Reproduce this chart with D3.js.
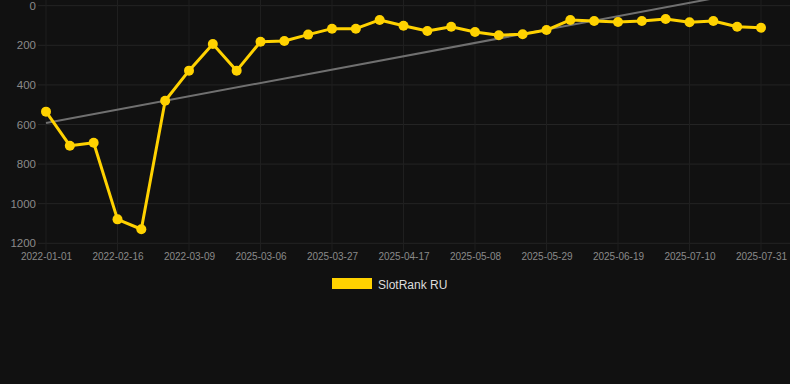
<!DOCTYPE html>
<html>
<head>
<meta charset="utf-8">
<script src="https://cdn.jsdelivr.net/npm/d3@7"></script>
<style>
  html, body { margin: 0; padding: 0; background: #111111; }
  svg { display: block; font-family: "Liberation Sans", Arial, Helvetica, sans-serif; }
</style>
</head>
<body>
<div id="chart"></div>
<script>
// ============================================================
//  Data
// ============================================================

const dates = [
  '2022-01-01', '2022-01-16', '2022-02-01', '2022-02-16', '2022-02-23', '2022-03-02',
  '2022-03-09', '2025-02-20', '2025-02-27', '2025-03-06', '2025-03-13', '2025-03-20',
  '2025-03-27', '2025-04-03', '2025-04-10', '2025-04-17', '2025-04-24', '2025-05-01',
  '2025-05-08', '2025-05-15', '2025-05-22', '2025-05-29', '2025-06-05', '2025-06-12',
  '2025-06-19', '2025-06-26', '2025-07-03', '2025-07-10', '2025-07-17', '2025-07-24',
  '2025-07-31'
];

// Rank values (lower is better, axis reversed)
const rankRU = [
  535, 707, 692, 1079, 1129, 480, 328, 193, 328, 182, 178, 146, 116, 116, 72, 101,
  128, 106, 133, 149, 144, 123, 72, 77, 82, 77, 67, 84, 77, 106, 111
];

const yTicks = [0, 200, 400, 600, 800, 1000, 1200];
const seriesName = 'SlotRank RU';

// ============================================================
//  Layout
// ============================================================

const W = 790, H = 384;
const plot = { left: 38, right: 790, top: 5.7, bottom: 243.3 };
const yellow = '#ffd200';

const svg = d3.select('#chart').append('svg')
  .attr('width', W).attr('height', H);

svg.append('rect').attr('width', W).attr('height', H).attr('fill', '#111111');

const x = d3.scalePoint().domain(dates).range([46, 761]);
const y = d3.scaleLinear().domain([0, 1200]).range([plot.top, plot.bottom]);

// x labels only on every third category
const xTicks = dates.filter((d, i) => i % 3 === 0);

// ============================================================
//  Grid
// ============================================================

svg.append('g')
  .selectAll('line')
  .data(yTicks)
  .join('line')
  .attr('x1', plot.left).attr('x2', plot.right)
  .attr('y1', d => y(d)).attr('y2', d => y(d))
  .attr('stroke', '#242424').attr('stroke-width', 1);

svg.append('g')
  .selectAll('line')
  .data(xTicks)
  .join('line')
  .attr('x1', d => x(d)).attr('x2', d => x(d))
  .attr('y1', 0).attr('y2', plot.bottom + 8)
  .attr('stroke', '#1f1f1f').attr('stroke-width', 1);

// ============================================================
//  Axes (text only, chart.js style)
// ============================================================

const yAxis = svg.append('g')
  .attr('transform', `translate(${plot.left - 2},0)`)
  .call(d3.axisLeft(y).tickValues(yTicks).tickFormat(d3.format('d')).tickSize(0).tickPadding(0));
yAxis.select('.domain').remove();
yAxis.selectAll('text').attr('fill', '#8a8a8a').attr('font-size', 11.5);

const xAxis = svg.append('g')
  .attr('transform', `translate(0,${plot.bottom})`)
  .call(d3.axisBottom(x).tickValues(xTicks).tickSize(0).tickPadding(10));
xAxis.select('.domain').remove();
xAxis.selectAll('text').attr('fill', '#8a8a8a').attr('font-size', 10);

// ============================================================
//  Trend line (least squares over the series)
// ============================================================

const idx = d3.range(rankRU.length);
const mx = d3.mean(idx), my = d3.mean(rankRU);
const slope = d3.sum(idx, i => (i - mx) * (rankRU[i] - my)) / d3.sum(idx, i => (i - mx) ** 2);
const icpt = my - slope * mx;
const last = rankRU.length - 1;

svg.append('line')
  .attr('x1', x(dates[0])).attr('y1', y(icpt))
  .attr('x2', x(dates[last])).attr('y2', y(icpt + slope * last))
  .attr('stroke', '#707070').attr('stroke-width', 2);

// ============================================================
//  Series
// ============================================================

svg.append('path')
  .datum(rankRU)
  .attr('fill', 'none')
  .attr('stroke', yellow)
  .attr('stroke-width', 3)
  .attr('stroke-linejoin', 'round')
  .attr('d', d3.line().x((d, i) => x(dates[i])).y(d => y(d)));

svg.append('g')
  .selectAll('circle')
  .data(rankRU)
  .join('circle')
  .attr('cx', (d, i) => x(dates[i]))
  .attr('cy', d => y(d))
  .attr('r', 5)
  .attr('fill', yellow);

// ============================================================
//  Legend
// ============================================================

const legend = svg.append('g').attr('transform', 'translate(332,278)');
legend.append('rect').attr('width', 40).attr('height', 11).attr('fill', yellow);
legend.append('text')
  .attr('x', 46).attr('y', 10.5)
  .attr('fill', '#dddddd').attr('font-size', 12)
  .text(seriesName);
</script>
</body>
</html>
